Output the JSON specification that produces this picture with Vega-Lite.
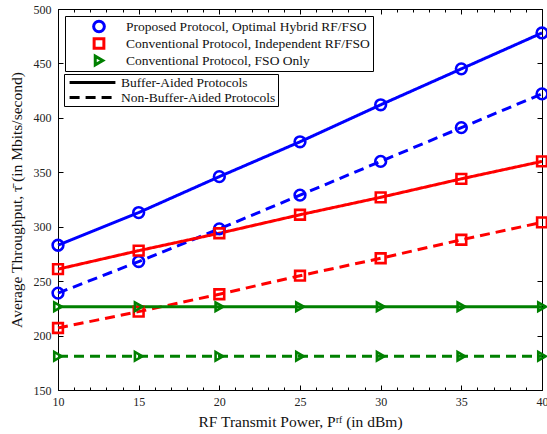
{
  "$schema": "https://vega.github.io/schema/vega-lite/v6.json",
  "width": 484,
  "height": 381,
  "autosize": {"type": "none"},
  "padding": {"left": 58, "top": 9, "right": 5, "bottom": 44},
  "background": "white",
  "config": {
    "view": {"stroke": "black", "strokeWidth": 1},
    "font": "Liberation Serif",
    "axis": {
      "labelFont": "Liberation Serif",
      "titleFont": "Liberation Serif",
      "labelFontSize": 12,
      "titleFontSize": 15.5,
      "titleFontWeight": "normal",
      "labelColor": "#222",
      "titleColor": "#111",
      "tickColor": "black",
      "domain": false,
      "grid": false,
      "labelFlush": false
    },
    "legend": {
      "labelFont": "Liberation Serif",
      "labelFontSize": 13.5,
      "labelColor": "#111",
      "labelLimit": 600
    }
  },
  "datasets": {
    "tp": [
      {"x": 10, "y": 283, "protocol": "Proposed Protocol, Optimal Hybrid RF/FSO", "type": "Buffer-Aided Protocols"},
      {"x": 15, "y": 313, "protocol": "Proposed Protocol, Optimal Hybrid RF/FSO", "type": "Buffer-Aided Protocols"},
      {"x": 20, "y": 346, "protocol": "Proposed Protocol, Optimal Hybrid RF/FSO", "type": "Buffer-Aided Protocols"},
      {"x": 25, "y": 378, "protocol": "Proposed Protocol, Optimal Hybrid RF/FSO", "type": "Buffer-Aided Protocols"},
      {"x": 30, "y": 412, "protocol": "Proposed Protocol, Optimal Hybrid RF/FSO", "type": "Buffer-Aided Protocols"},
      {"x": 35, "y": 445, "protocol": "Proposed Protocol, Optimal Hybrid RF/FSO", "type": "Buffer-Aided Protocols"},
      {"x": 40, "y": 478, "protocol": "Proposed Protocol, Optimal Hybrid RF/FSO", "type": "Buffer-Aided Protocols"},
      {"x": 10, "y": 239, "protocol": "Proposed Protocol, Optimal Hybrid RF/FSO", "type": "Non-Buffer-Aided Protocols"},
      {"x": 15, "y": 268, "protocol": "Proposed Protocol, Optimal Hybrid RF/FSO", "type": "Non-Buffer-Aided Protocols"},
      {"x": 20, "y": 298, "protocol": "Proposed Protocol, Optimal Hybrid RF/FSO", "type": "Non-Buffer-Aided Protocols"},
      {"x": 25, "y": 329, "protocol": "Proposed Protocol, Optimal Hybrid RF/FSO", "type": "Non-Buffer-Aided Protocols"},
      {"x": 30, "y": 360, "protocol": "Proposed Protocol, Optimal Hybrid RF/FSO", "type": "Non-Buffer-Aided Protocols"},
      {"x": 35, "y": 391, "protocol": "Proposed Protocol, Optimal Hybrid RF/FSO", "type": "Non-Buffer-Aided Protocols"},
      {"x": 40, "y": 422, "protocol": "Proposed Protocol, Optimal Hybrid RF/FSO", "type": "Non-Buffer-Aided Protocols"},
      {"x": 10, "y": 261, "protocol": "Conventional Protocol, Independent RF/FSO", "type": "Buffer-Aided Protocols"},
      {"x": 15, "y": 278, "protocol": "Conventional Protocol, Independent RF/FSO", "type": "Buffer-Aided Protocols"},
      {"x": 20, "y": 294, "protocol": "Conventional Protocol, Independent RF/FSO", "type": "Buffer-Aided Protocols"},
      {"x": 25, "y": 311, "protocol": "Conventional Protocol, Independent RF/FSO", "type": "Buffer-Aided Protocols"},
      {"x": 30, "y": 327, "protocol": "Conventional Protocol, Independent RF/FSO", "type": "Buffer-Aided Protocols"},
      {"x": 35, "y": 344, "protocol": "Conventional Protocol, Independent RF/FSO", "type": "Buffer-Aided Protocols"},
      {"x": 40, "y": 360, "protocol": "Conventional Protocol, Independent RF/FSO", "type": "Buffer-Aided Protocols"},
      {"x": 10, "y": 207, "protocol": "Conventional Protocol, Independent RF/FSO", "type": "Non-Buffer-Aided Protocols"},
      {"x": 15, "y": 222, "protocol": "Conventional Protocol, Independent RF/FSO", "type": "Non-Buffer-Aided Protocols"},
      {"x": 20, "y": 238, "protocol": "Conventional Protocol, Independent RF/FSO", "type": "Non-Buffer-Aided Protocols"},
      {"x": 25, "y": 255, "protocol": "Conventional Protocol, Independent RF/FSO", "type": "Non-Buffer-Aided Protocols"},
      {"x": 30, "y": 271, "protocol": "Conventional Protocol, Independent RF/FSO", "type": "Non-Buffer-Aided Protocols"},
      {"x": 35, "y": 288, "protocol": "Conventional Protocol, Independent RF/FSO", "type": "Non-Buffer-Aided Protocols"},
      {"x": 40, "y": 304, "protocol": "Conventional Protocol, Independent RF/FSO", "type": "Non-Buffer-Aided Protocols"},
      {"x": 10, "y": 226.5, "protocol": "Conventional Protocol, FSO Only", "type": "Buffer-Aided Protocols"},
      {"x": 15, "y": 226.5, "protocol": "Conventional Protocol, FSO Only", "type": "Buffer-Aided Protocols"},
      {"x": 20, "y": 226.5, "protocol": "Conventional Protocol, FSO Only", "type": "Buffer-Aided Protocols"},
      {"x": 25, "y": 226.5, "protocol": "Conventional Protocol, FSO Only", "type": "Buffer-Aided Protocols"},
      {"x": 30, "y": 226.5, "protocol": "Conventional Protocol, FSO Only", "type": "Buffer-Aided Protocols"},
      {"x": 35, "y": 226.5, "protocol": "Conventional Protocol, FSO Only", "type": "Buffer-Aided Protocols"},
      {"x": 40, "y": 226.5, "protocol": "Conventional Protocol, FSO Only", "type": "Buffer-Aided Protocols"},
      {"x": 10, "y": 181, "protocol": "Conventional Protocol, FSO Only", "type": "Non-Buffer-Aided Protocols"},
      {"x": 15, "y": 181, "protocol": "Conventional Protocol, FSO Only", "type": "Non-Buffer-Aided Protocols"},
      {"x": 20, "y": 181, "protocol": "Conventional Protocol, FSO Only", "type": "Non-Buffer-Aided Protocols"},
      {"x": 25, "y": 181, "protocol": "Conventional Protocol, FSO Only", "type": "Non-Buffer-Aided Protocols"},
      {"x": 30, "y": 181, "protocol": "Conventional Protocol, FSO Only", "type": "Non-Buffer-Aided Protocols"},
      {"x": 35, "y": 181, "protocol": "Conventional Protocol, FSO Only", "type": "Non-Buffer-Aided Protocols"},
      {"x": 40, "y": 181, "protocol": "Conventional Protocol, FSO Only", "type": "Non-Buffer-Aided Protocols"}
    ]
  },
  "data": {"name": "tp"},
  "resolve": {"axis": {"x": "independent", "y": "independent"}},
  "layer": [
    {
      "transform": [{"filter": "datum.protocol === 'Proposed Protocol, Optimal Hybrid RF/FSO'"}],
      "mark": {"type": "line", "strokeWidth": 3, "color": "#0000ff"},
      "encoding": {
        "x": {
          "field": "x", "type": "quantitative",
          "scale": {"domain": [10, 40], "nice": false, "zero": false},
          "axis": {"orient": "bottom", "values": [10, 15, 20, 25, 30, 35, 40], "tickSize": -5, "labelPadding": 11, "title": "RF Transmit Power, P\u02b3\u1da0 (in dBm)", "titlePadding": 7}
        },
        "y": {
          "field": "y", "type": "quantitative",
          "scale": {"domain": [150, 500], "nice": false, "zero": false},
          "axis": {"orient": "left", "values": [150, 200, 250, 300, 350, 400, 450, 500], "tickSize": -5, "labelPadding": 12, "title": "Average Throughput, \u03c4\u0304 (in Mbits/second)", "titlePadding": 9}
        },
        "strokeDash": {
          "field": "type", "type": "nominal",
          "scale": {"domain": ["Buffer-Aided Protocols", "Non-Buffer-Aided Protocols"], "range": [[1, 0], [10, 6]]},
          "legend": {
            "orient": "none", "legendX": 6, "legendY": 65, "title": null,
            "strokeColor": "black", "fillColor": "white", "padding": 2,
            "symbolType": "stroke", "symbolStrokeColor": "black", "symbolStrokeWidth": 3, "symbolSize": 2100,
            "clipHeight": 13, "symbolOffset": 2, "labelOffset": 4, "rowPadding": 1
          }
        }
      }
    },
    {
      "transform": [{"filter": "datum.protocol === 'Conventional Protocol, Independent RF/FSO'"}],
      "mark": {"type": "line", "strokeWidth": 3, "color": "#ff0000"},
      "encoding": {
        "x": {"field": "x", "type": "quantitative", "axis": null},
        "y": {"field": "y", "type": "quantitative", "axis": null},
        "strokeDash": {"field": "type", "type": "nominal", "legend": null}
      }
    },
    {
      "transform": [{"filter": "datum.protocol === 'Conventional Protocol, FSO Only'"}],
      "mark": {"type": "line", "strokeWidth": 3, "color": "#008000"},
      "encoding": {
        "x": {"field": "x", "type": "quantitative", "axis": null},
        "y": {"field": "y", "type": "quantitative", "axis": null},
        "strokeDash": {"field": "type", "type": "nominal", "legend": null}
      }
    },
    {
      "mark": {"type": "point", "filled": false, "strokeWidth": 2.6, "opacity": 1},
      "encoding": {
        "x": {
          "field": "x", "type": "quantitative",
          "axis": {"orient": "top", "values": [10, 15, 20, 25, 30, 35, 40], "tickSize": -5, "labels": false, "title": null}
        },
        "y": {
          "field": "y", "type": "quantitative",
          "axis": {"orient": "right", "values": [150, 200, 250, 300, 350, 400, 450, 500], "tickSize": -5, "labels": false, "title": null}
        },
        "color": {
          "field": "protocol", "type": "nominal",
          "scale": {"domain": ["Proposed Protocol, Optimal Hybrid RF/FSO", "Conventional Protocol, Independent RF/FSO", "Conventional Protocol, FSO Only"], "range": ["#0000ff", "#ff0000", "#008000"]},
          "legend": {
            "orient": "none", "legendX": 7, "legendY": 7, "title": null,
            "strokeColor": "black", "fillColor": "white", "padding": 3,
            "symbolOffset": 24, "labelOffset": 20, "rowPadding": 2, "clipHeight": 15, "symbolStrokeWidth": 3
          }
        },
        "shape": {
          "field": "protocol", "type": "nominal",
          "scale": {"domain": ["Proposed Protocol, Optimal Hybrid RF/FSO", "Conventional Protocol, Independent RF/FSO", "Conventional Protocol, FSO Only"], "range": ["circle", "square", "triangle-right"]},
          "legend": {
            "orient": "none", "legendX": 7, "legendY": 7, "title": null,
            "strokeColor": "black", "fillColor": "white", "padding": 3,
            "symbolOffset": 24, "labelOffset": 20, "rowPadding": 2, "clipHeight": 15, "symbolStrokeWidth": 3
          }
        },
        "size": {
          "field": "protocol", "type": "nominal",
          "scale": {"domain": ["Proposed Protocol, Optimal Hybrid RF/FSO", "Conventional Protocol, Independent RF/FSO", "Conventional Protocol, FSO Only"], "range": [115, 75, 260]},
          "legend": {
            "orient": "none", "legendX": 7, "legendY": 7, "title": null,
            "strokeColor": "black", "fillColor": "white", "padding": 3,
            "symbolOffset": 24, "labelOffset": 20, "rowPadding": 2, "clipHeight": 15, "symbolStrokeWidth": 3
          }
        }
      }
    },
    {
      "mark": {"type": "point", "opacity": 0},
      "encoding": {
        "x": {
          "field": "x", "type": "quantitative",
          "axis": {"orient": "bottom", "values": [10,11,12,13,14,15,16,17,18,19,20,21,22,23,24,25,26,27,28,29,30,31,32,33,34,35,36,37,38,39,40], "tickSize": -3, "labels": false, "title": null}
        },
        "y": {"field": "y", "type": "quantitative", "axis": null}
      }
    },
    {
      "mark": {"type": "point", "opacity": 0},
      "encoding": {
        "x": {
          "field": "x", "type": "quantitative",
          "axis": {"orient": "top", "values": [10,11,12,13,14,15,16,17,18,19,20,21,22,23,24,25,26,27,28,29,30,31,32,33,34,35,36,37,38,39,40], "tickSize": -3, "labels": false, "title": null}
        },
        "y": {"field": "y", "type": "quantitative", "axis": null}
      }
    }
  ]
}
